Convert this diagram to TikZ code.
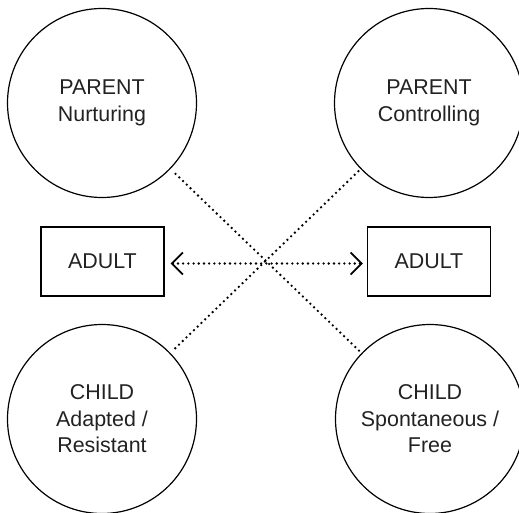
\documentclass[tikz,border=0pt]{standalone}
\usepackage{fontspec}
\setmainfont{Liberation Sans}
\usetikzlibrary{arrows.meta}
\definecolor{ink}{HTML}{222222}
\tikzset{
  ego/.style={circle, draw=black, line width=1.2bp, minimum size=189bp, inner sep=0pt,
    align=center, text=ink, font=\fontsize{21.5}{26.5}\selectfont},
  adultbox/.style={rectangle, draw=black, line width=1.2bp, minimum width=123bp,
    minimum height=69bp, inner sep=0pt, text=ink, font=\fontsize{21.5}{26.5}\selectfont},
  dotline/.style={line width=2.6bp, line cap=round, dash pattern=on 0bp off 5.2bp, black},
}
\begin{document}
\begin{tikzpicture}[x=1bp, y=-1bp]
\useasboundingbox (0,0) rectangle (519,513);
\node[ego] (pn) at (102,103) {PARENT\\Nurturing};
\node[ego] (pc) at (429,103) {PARENT\\Controlling};
\node[ego] (ca) at (102,419) {CHILD\\Adapted /\\Resistant};
\node[ego] (cs) at (430,419) {CHILD\\Spontaneous /\\Free};
\node[adultbox] (al) at (102.5,261.5) {ADULT};
\node[adultbox] (ar) at (429,261.5) {ADULT};
\draw[dotline, shorten <=7bp, shorten >=3bp] (pn) -- (cs);
\draw[dotline, shorten <=3bp, shorten >=5bp] (pc) -- (ca);
\draw[dotline, shorten <=6bp, shorten >=4bp,
  arrows={Straight Barb[length=11bp, width=22bp, line width=1.8bp]-Straight Barb[length=11bp, width=22bp, line width=1.8bp]}]
  ([yshift=-2bp]al.east) -- ([yshift=-2bp]ar.west);
\end{tikzpicture}
\end{document}
